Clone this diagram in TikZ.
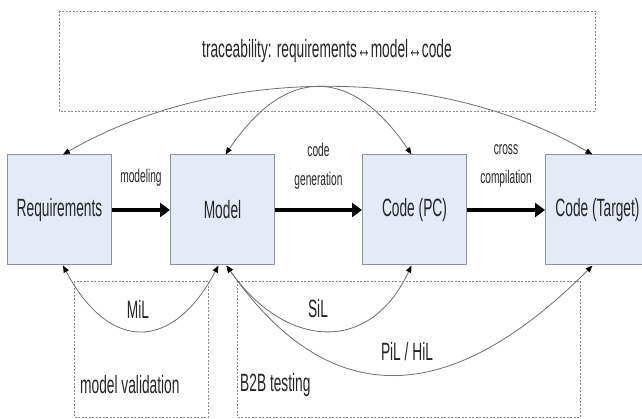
\documentclass[tikz,border=0pt]{standalone}
\usepackage{fontspec}
\setmainfont[FakeStretch=0.55]{Liberation Sans}
\usetikzlibrary{positioning,arrows.meta}
\definecolor{boxfill}{HTML}{E4EAF6}
\definecolor{boxline}{HTML}{8C929C}
\definecolor{linkgray}{HTML}{6E6E6E}
\definecolor{framegray}{HTML}{8A8A8A}
\definecolor{txt}{HTML}{262626}

\begin{document}
\begin{tikzpicture}[x=1pt, y=1pt, text=txt,
    big/.style = {font=\fontsize{25}{29}\selectfont},
    small/.style = {font=\fontsize{18.5}{29}\selectfont, align=center},
    main/.style = {draw=boxline, line width=1pt, fill=boxfill, minimum width=104pt, minimum height=110pt, big},
    flow/.style = {line width=4pt, -{Triangle[length=10pt,width=14pt]}},
    link/.style = {draw=linkgray, line width=0.8pt, {Triangle[length=7pt,width=5.5pt,color=black]}-{Triangle[length=7pt,width=5.5pt,color=black]}},
    frame/.style = {draw=framegray, line width=0.6pt, dash pattern=on 2pt off 1.5pt}]
  \fill[white] (0,0) rectangle (642,-419);
  \useasboundingbox (0,0) rectangle (642,-419);
  \draw[frame] (59,-11) rectangle (595,-111);
  \draw[frame] (74,-281) rectangle (208,-417);
  \draw[frame] (237,-281) rectangle (580,-417);

  \node[main] (req) at (59.5,-210) {Requirements};
  \node[main] (model) [right=58pt of req] {Model};
  \node[main] (pc) [right=87pt of model] {Code (PC)};
  \node[main] (tgt) [right=78pt of pc] {Code (Target)};

  \draw[flow] (req) -- node[small, yshift=32pt] (lmod) {modeling} (model);
  \draw[flow] (model) -- node[small, yshift=44pt] (lgen) {code\\generation} (pc);
  \draw[flow] (pc) -- node[small, yshift=44pt] (lcomp) {cross\\compilation} (tgt);

  \node[big] (trace) at (327,-51) {traceability: requirements↔model↔code};
  \draw[link] ([xshift=3.5pt]req.north) to[out=30, in=150, looseness=0.87] ([xshift=-5pt]tgt.north);
  \draw[link] ([xshift=3pt]model.north) to[out=56, in=124, looseness=1.48] ([xshift=-3pt]pc.north);

  \draw[link] ([xshift=3.5pt]req.south) to[out=-62, in=-118, looseness=1.62] ([xshift=-4pt]model.south);
  \draw[link] ([xshift=4pt]model.south) to[out=-55, in=-115, looseness=1.39] ([xshift=-3pt]pc.south);
  \draw[link] ([xshift=4pt]model.south) to[out=-55, in=-135, looseness=1.33] ([xshift=-5pt]tgt.south);

  \node[big] (mil) at (138,-309) {MiL};
  \node[big] (sil) at (318,-309) {SiL};
  \node[big] (hil) at (407,-352) {PiL / HiL};
  \node[big, anchor=west, inner sep=0pt] (mval) at (80,-385) {model validation};
  \node[big, anchor=west, inner sep=0pt] (b2b) at (240,-385) {B2B testing};
\end{tikzpicture}
\end{document}
